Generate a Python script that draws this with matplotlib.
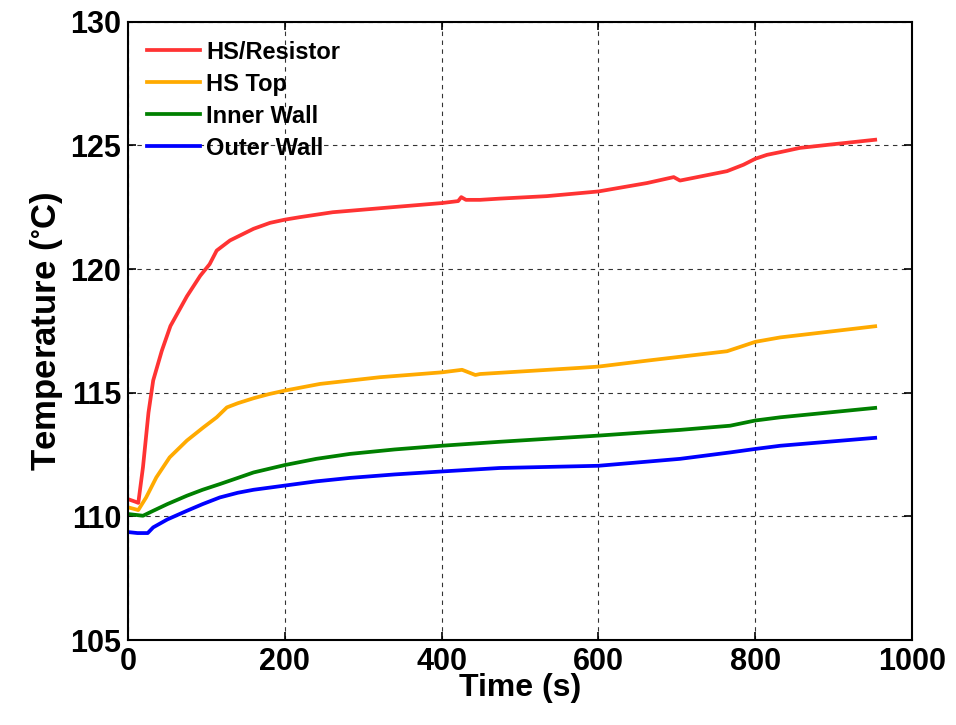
import matplotlib
matplotlib.use("Agg")
import matplotlib.pyplot as plt
import numpy as np

plt.rcParams['font.family'] = ['Liberation Sans', 'DejaVu Sans']
plt.rcParams['font.weight'] = 'bold'

# HS/Resistor
t_red = [0, 9, 13, 19, 26, 32, 43, 54, 75, 92, 104, 113, 130, 160, 181, 200, 219, 261, 347, 400,
         421, 425, 431, 449, 474, 534, 600, 662, 696, 704, 764, 785, 800, 815, 832, 857, 900, 953]
v_red = [110.7, 110.6, 110.55, 112.0, 114.2, 115.5, 116.7, 117.7, 118.9, 119.73, 120.2, 120.75,
         121.16, 121.63, 121.87, 122.0, 122.1, 122.30, 122.53, 122.67,
         122.75, 122.91, 122.8, 122.80, 122.85, 122.95, 123.14, 123.48, 123.72, 123.58, 123.96,
         124.22, 124.46, 124.62, 124.73, 124.90, 125.05, 125.23]

# HS Top
t_org = [0, 13, 23, 36, 53, 75, 96, 113, 126, 140, 160, 180, 200, 245, 321, 401, 426, 443, 449,
         577, 600, 662, 764, 785, 800, 832, 953]
v_org = [110.37, 110.26, 110.77, 111.58, 112.39, 113.07, 113.60, 114.01, 114.41, 114.58, 114.78,
         114.95, 115.09, 115.36, 115.63, 115.83, 115.93, 115.72, 115.76, 116.01, 116.06, 116.30,
         116.68, 116.90, 117.06, 117.24, 117.69]

# Inner Wall
t_grn = [0, 19, 32, 50, 75, 95, 117, 140, 160, 200, 240, 283, 340, 400, 474, 600, 704, 768, 800,
         832, 953]
v_grn = [110.10, 110.03, 110.23, 110.50, 110.84, 111.08, 111.31, 111.56, 111.78, 112.08, 112.33,
         112.53, 112.71, 112.86, 113.02, 113.27, 113.50, 113.67, 113.88, 114.01, 114.39]

# Outer Wall
t_blu = [0, 12, 25, 32, 50, 75, 95, 117, 140, 160, 200, 240, 283, 340, 400, 474, 600, 704, 768,
         800, 832, 953]
v_blu = [109.37, 109.33, 109.33, 109.56, 109.88, 110.23, 110.50, 110.77, 110.96, 111.08, 111.25,
         111.42, 111.56, 111.70, 111.82, 111.96, 112.05, 112.33, 112.59, 112.73, 112.86, 113.18]

labels = ['HS/Resistor', 'HS Top', 'Inner Wall', 'Outer Wall']
colors = ['#ff3333', '#ffaa00', '#008000', '#0000ff']

fig = plt.figure(figsize=(9.56, 7.25), dpi=100)
ax = fig.add_axes([0.134, 0.117, 0.820, 0.853])

for t, v, lab, c in zip([t_red, t_org, t_grn, t_blu], [v_red, v_org, v_grn, v_blu], labels, colors):
    ax.plot(t, v, color=c, lw=2.7, label=lab, solid_joinstyle='round')

ax.set_xlim(0, 1000)
ax.set_ylim(105, 130)
ax.set_xticks(np.arange(0, 1001, 200))
ax.set_yticks(np.arange(105, 131, 5))
ax.grid(True, color='black', linestyle=(0, (4, 4)), lw=0.8, alpha=0.8)
ax.tick_params(direction='in', labelsize=22, length=6, width=1.2, top=True, right=True, pad=5)
for s in ax.spines.values():
    s.set_linewidth(1.5)
for lbl in ax.get_xticklabels() + ax.get_yticklabels():
    lbl.set_fontweight('bold')

ax.set_xlabel('Time (s)', fontsize=23, fontweight='bold', labelpad=-3)
ax.set_ylabel(r'Temperature ($\mathregular{^{\circ}}$C)', fontsize=25, fontweight='bold', labelpad=4)

leg = ax.legend(loc='upper left', frameon=False, handlelength=2.25,
                handletextpad=0.25, labelspacing=0.38, borderaxespad=0.4,
                prop={'weight': 'bold', 'size': 17})

fig.savefig('out.png', dpi=100)
